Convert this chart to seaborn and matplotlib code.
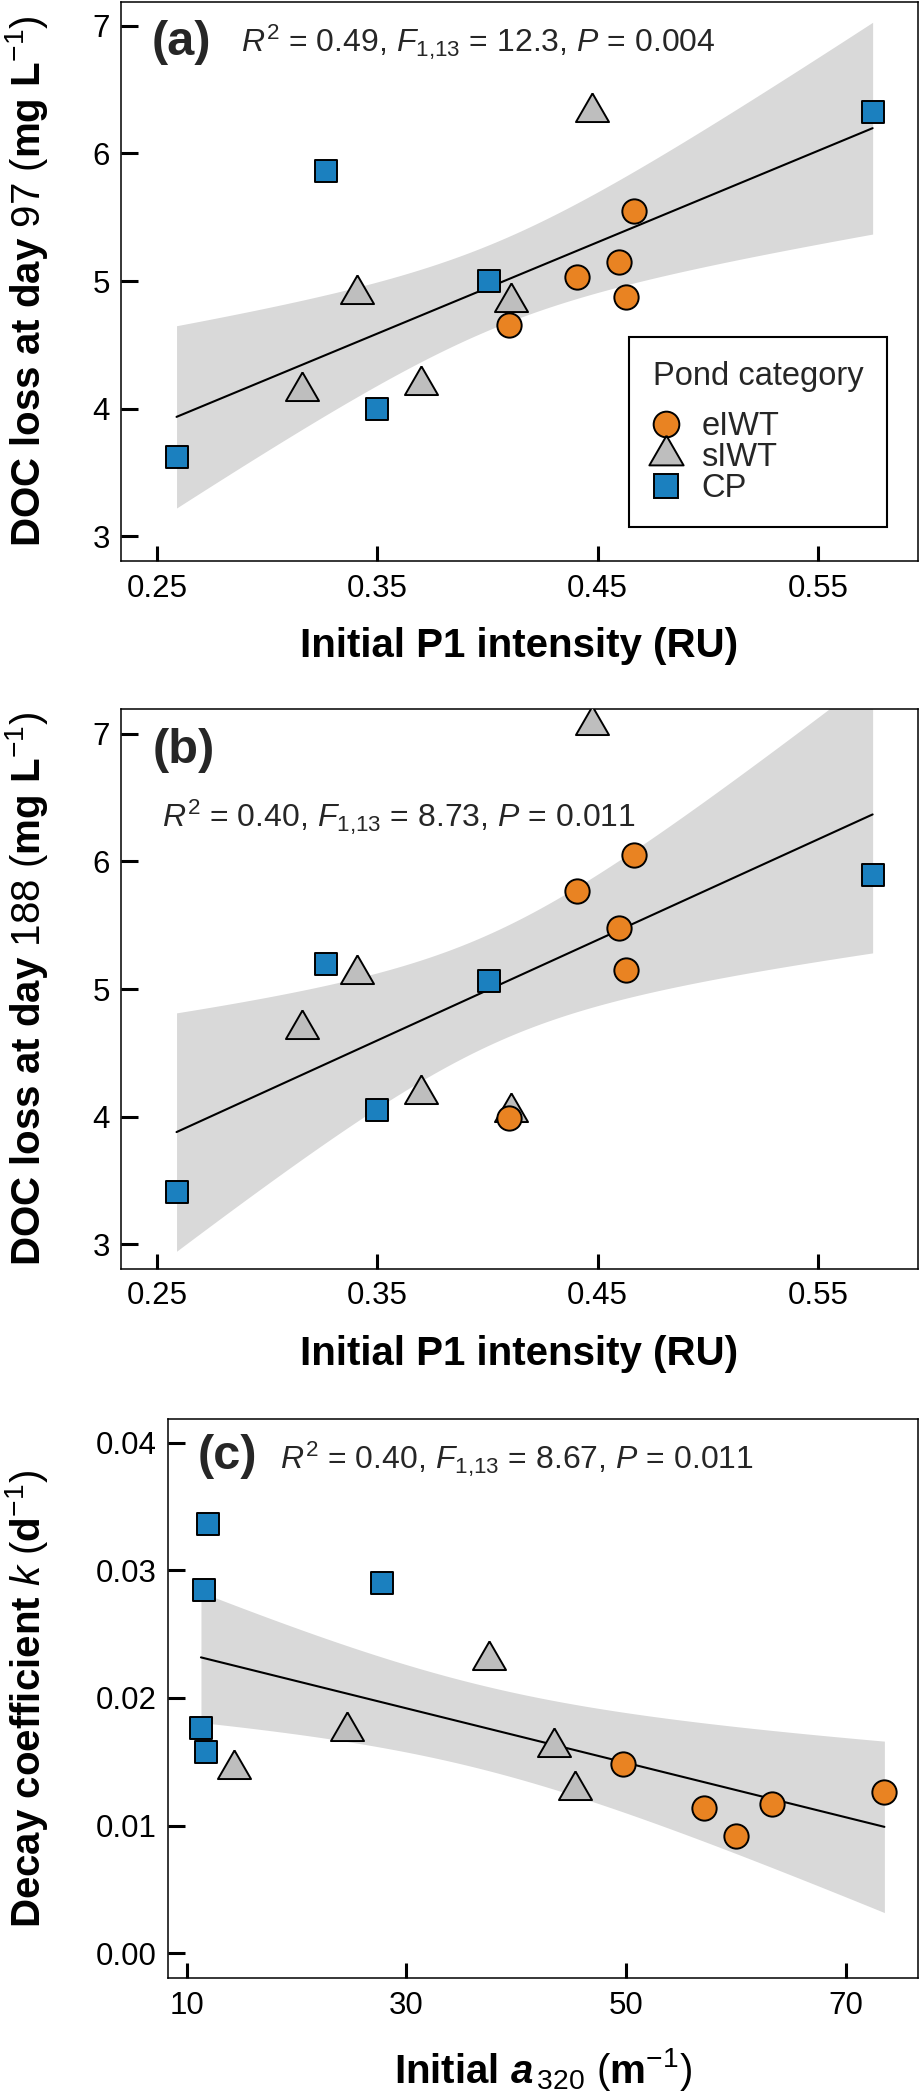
import numpy as np
import pandas as pd
import matplotlib
matplotlib.use("Agg")
import matplotlib.pyplot as plt
from matplotlib.lines import Line2D
import seaborn as sns

# ---------------- data ----------------
categories = ["eIWT", "sIWT", "CP"]

# Initial P1 intensity (RU) - shared by panels (a) and (b)
p1_eiwt = [0.4096, 0.4405, 0.4596, 0.4628, 0.4665]
p1_siwt = [0.3158, 0.3408, 0.3697, 0.4107, 0.4476]
p1_cp = [0.2589, 0.3269, 0.3499, 0.4007, 0.5748]

# DOC loss at day 97 (mg L-1)
doc97_eiwt = [4.656, 5.029, 5.148, 4.877, 5.547]
doc97_siwt = [4.139, 4.896, 4.189, 4.833, 6.322]
doc97_cp = [3.620, 5.865, 4.000, 4.998, 6.323]

# DOC loss at day 188 (mg L-1)
doc188_eiwt = [3.986, 5.764, 5.478, 5.147, 6.053]
doc188_siwt = [4.688, 5.115, 4.177, 4.040, 7.072]
doc188_cp = [3.408, 5.199, 4.051, 5.059, 5.897]

# Initial a320 (m-1)
a320_eiwt = [49.75, 57.12, 60.00, 63.32, 73.52]
a320_siwt = [14.34, 24.60, 37.53, 43.42, 45.33]
a320_cp = [11.92, 11.58, 27.79, 11.31, 11.77]

# Decay coefficient k (d-1)
k_eiwt = [0.01484, 0.01135, 0.00915, 0.01171, 0.01263]
k_siwt = [0.01442, 0.01742, 0.02299, 0.01617, 0.01275]
k_cp = [0.03363, 0.02843, 0.02900, 0.01764, 0.01576]

stats_a = r"$R^2$ = 0.49, $F_{1{,}13}$ = 12.3, $P$ = 0.004"
stats_b = r"$R^2$ = 0.40, $F_{1{,}13}$ = 8.73, $P$ = 0.011"
stats_c = r"$R^2$ = 0.40, $F_{1{,}13}$ = 8.67, $P$ = 0.011"

p1_ticks = [0.25, 0.35, 0.45, 0.55]
p1_ticklabels = ["0.25", "0.35", "0.45", "0.55"]
doc_ticks = [3, 4, 5, 6, 7]
doc_ticklabels = ["3", "4", "5", "6", "7"]
a320_ticks = [10, 30, 50, 70]
a320_ticklabels = ["10", "30", "50", "70"]
k_ticks = [0.00, 0.01, 0.02, 0.03, 0.04]
k_ticklabels = ["0.00", "0.01", "0.02", "0.03", "0.04"]

# ---------------- style ----------------
sns.set_theme(style="ticks")
plt.rcParams["font.family"] = ["Liberation Sans", "DejaVu Sans"]
plt.rcParams["mathtext.fontset"] = "custom"
plt.rcParams["mathtext.rm"] = "Liberation Sans"
plt.rcParams["mathtext.it"] = "Liberation Sans:italic"
plt.rcParams["mathtext.bf"] = "Liberation Sans:bold"
try:
    plt.rcParams["mathtext.bfit"] = "Liberation Sans:italic:bold"
except KeyError:
    pass

COLORS = {"eIWT": "#E98322", "sIWT": "#BEBEBE", "CP": "#1B80BF"}
TRI = np.array([[0.0, 1.0], [-0.866, -0.5], [0.866, -0.5], [0.0, 1.0]])
MARKERS = {"eIWT": "o", "sIWT": TRI, "CP": "s"}
SIZES = {"eIWT": 17.5, "sIWT": 27.5, "CP": 16.0}
BAND = "#D9D9D9"
EDGE_LW = 1.4

TICK_FS = 22.5
LABEL_FS = 29
STATS_FS = 23
TAG_FS = 35

fig = plt.figure(figsize=(9.2, 20.92), dpi=100)
W, H = 920, 2092
ax_a = fig.add_axes([121 / W, 1 - 561 / H, 797 / W, 559 / H])
ax_b = fig.add_axes([121 / W, 1 - 1269 / H, 797 / W, 560 / H])
ax_c = fig.add_axes([168 / W, 1 - 1978 / H, 750 / W, 559 / H])


def fit_band(ax, x, y):
    x = np.asarray(x, float)
    y = np.asarray(y, float)
    n = len(x)
    b1, b0 = np.polyfit(x, y, 1)
    grid = np.linspace(x.min(), x.max(), 200)
    pred = b0 + b1 * grid
    resid = y - (b0 + b1 * x)
    s = np.sqrt(np.sum(resid ** 2) / (n - 2))
    sxx = np.sum((x - x.mean()) ** 2)
    se = s * np.sqrt(1.0 / n + (grid - x.mean()) ** 2 / sxx)
    t = 2.1604  # t(0.975, 13)
    ax.fill_between(grid, pred - t * se, pred + t * se, color=BAND, lw=0, zorder=1)
    sns.lineplot(x=grid, y=pred, ax=ax, color="black", lw=1.5, zorder=2)


def panel(ax, xs, ys, xlim, ylim, xticks, xtl, yticks, ytl):
    allx = np.concatenate([np.asarray(v, float) for v in xs.values()])
    ally = np.concatenate([np.asarray(v, float) for v in ys.values()])
    fit_band(ax, allx, ally)
    for cat in ["sIWT", "CP", "eIWT"]:
        sns.scatterplot(x=xs[cat], y=ys[cat], ax=ax, marker=MARKERS[cat],
                        s=SIZES[cat] ** 2, color=COLORS[cat], edgecolor="black",
                        linewidth=EDGE_LW, zorder=3, legend=False)
    ax.set_xlim(*xlim)
    ax.set_ylim(*ylim)
    ax.set_xticks(xticks, xtl)
    ax.set_yticks(yticks, ytl)
    ax.tick_params(axis="both", which="major", direction="in", labelsize=TICK_FS,
                   width=2.2, color="black", labelcolor="black",
                   top=False, right=False)
    ax.tick_params(axis="x", length=11, pad=9)
    ax.tick_params(axis="y", length=12.5, pad=8)
    for sp in ax.spines.values():
        sp.set_visible(True)
        sp.set_color("black")
        sp.set_linewidth(1.1)
    ax.set_facecolor("white")


panel(ax_a,
      {"eIWT": p1_eiwt, "sIWT": p1_siwt, "CP": p1_cp},
      {"eIWT": doc97_eiwt, "sIWT": doc97_siwt, "CP": doc97_cp},
      (0.2337, 0.5954), (2.808, 7.185), p1_ticks, p1_ticklabels, doc_ticks, doc_ticklabels)
panel(ax_b,
      {"eIWT": p1_eiwt, "sIWT": p1_siwt, "CP": p1_cp},
      {"eIWT": doc188_eiwt, "sIWT": doc188_siwt, "CP": doc188_cp},
      (0.2337, 0.5954), (2.806, 7.194), p1_ticks, p1_ticklabels, doc_ticks, doc_ticklabels)
panel(ax_c,
      {"eIWT": a320_eiwt, "sIWT": a320_siwt, "CP": a320_cp},
      {"eIWT": k_eiwt, "sIWT": k_siwt, "CP": k_cp},
      (8.31, 76.58), (-0.00195, 0.04186), a320_ticks, a320_ticklabels, k_ticks, k_ticklabels)

# axis labels
for ax in (ax_a, ax_b):
    ax.set_xlabel("Initial P1 intensity (RU)", fontsize=LABEL_FS, fontweight="bold", color="black")
    ax.xaxis.set_label_coords(0.5, -0.118)
ax_a.set_ylabel(r"$\mathbf{DOC\ loss\ at\ day}$ 97 $(\mathbf{mg\ L}^{-1})$", fontsize=LABEL_FS, color="black")
ax_b.set_ylabel(r"$\mathbf{DOC\ loss\ at\ day}$ 188 $(\mathbf{mg\ L}^{-1})$", fontsize=LABEL_FS, color="black")
ax_a.yaxis.set_label_coords(-0.089, 0.5)
ax_b.yaxis.set_label_coords(-0.089, 0.5)
ax_c.set_xlabel(r"$\mathbf{Initial}$ $\mathbfit{a}_{\,320}$ $(\mathbf{m}^{-1})$", fontsize=LABEL_FS, color="black")
ax_c.xaxis.set_label_coords(0.5, -0.122)
ax_c.set_ylabel(r"$\mathbf{Decay\ coefficient}$ $k$ $(\mathbf{d}^{-1})$", fontsize=LABEL_FS, color="black")
ax_c.yaxis.set_label_coords(-0.157, 0.5)
for ax in (ax_a, ax_b, ax_c):
    ax.xaxis.label.set_va("top")

# panel tags & statistics
ax_a.text(0.038, 0.905, "(a)", transform=ax_a.transAxes, fontsize=TAG_FS, fontweight="bold", va="baseline", ha="left")
ax_a.text(0.150, 0.911, stats_a, transform=ax_a.transAxes, fontsize=STATS_FS, va="baseline", ha="left")
ax_b.text(0.040, 0.904, "(b)", transform=ax_b.transAxes, fontsize=TAG_FS, fontweight="bold", va="baseline", ha="left")
ax_b.text(0.052, 0.789, stats_b, transform=ax_b.transAxes, fontsize=STATS_FS, va="baseline", ha="left")
ax_c.text(0.040, 0.911, "(c)", transform=ax_c.transAxes, fontsize=TAG_FS, fontweight="bold", va="baseline", ha="left")
ax_c.text(0.150, 0.911, stats_c, transform=ax_c.transAxes, fontsize=STATS_FS, va="baseline", ha="left")

# legend in panel (a)
handles = [Line2D([], [], linestyle="None", marker=MARKERS[c], markersize=SIZES[c] + 1,
                  markerfacecolor=COLORS[c], markeredgecolor="black", markeredgewidth=EDGE_LW)
           for c in categories]
leg = ax_a.legend(handles, categories, title="Pond category", loc="upper left",
                  bbox_to_anchor=(0.6374, 0.4007), borderaxespad=0, fontsize=23.5,
                  title_fontsize=23.5, frameon=True, fancybox=False, framealpha=1,
                  edgecolor="black", borderpad=0.72, handlelength=0.8,
                  handletextpad=0.7, labelspacing=0.0, alignment="left")
leg.get_frame().set_linewidth(1.5)
leg._legend_box.sep = 14

fig.savefig("out.png", dpi=100, facecolor="white")
